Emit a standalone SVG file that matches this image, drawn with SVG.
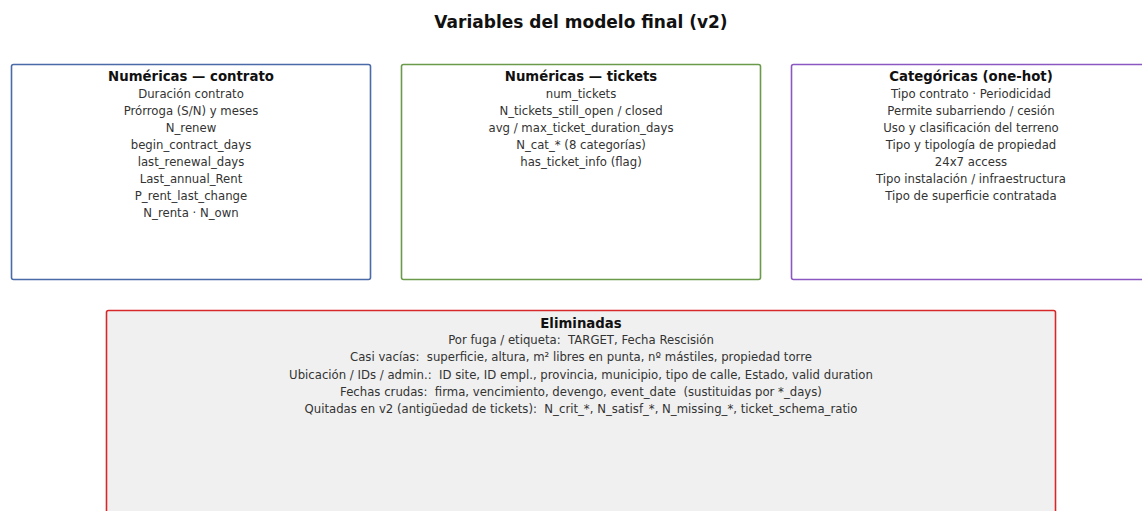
<svg xmlns="http://www.w3.org/2000/svg" width="1142" height="511" viewBox="0 0 1142 511">
<style>
.t{font-family:"DejaVu Sans",sans-serif;font-weight:bold;font-size:17px;fill:#111;text-anchor:middle}
.h{font-family:"DejaVu Sans",sans-serif;font-weight:bold;font-size:13.3px;fill:#111;text-anchor:middle}
.i{font-family:"DejaVu Sans",sans-serif;font-size:11.7px;fill:#333;text-anchor:middle;white-space:pre}
.box{stroke-width:1.6}
</style>
<rect width="1142" height="511" fill="#ffffff"/>
<text class="t" x="581" y="28">Variables del modelo final (v2)</text>
<g id="numericas-contrato">
<rect class="box" x="11.5" y="64.5" width="359" height="215" rx="2" fill="#ffffff" stroke="#4a6aa8"/>
<text class="h" x="191" y="80.5">Numéricas — contrato</text>
<text class="i" x="191" y="98">Duración contrato</text>
<text class="i" x="191" y="115">Prórroga (S/N) y meses</text>
<text class="i" x="191" y="132">N_renew</text>
<text class="i" x="191" y="149">begin_contract_days</text>
<text class="i" x="191" y="166">last_renewal_days</text>
<text class="i" x="191" y="183">Last_annual_Rent</text>
<text class="i" x="191" y="200">P_rent_last_change</text>
<text class="i" x="191" y="217">N_renta · N_own</text>
</g>
<g id="numericas-tickets">
<rect class="box" x="401.5" y="64.5" width="359" height="215" rx="2" fill="#ffffff" stroke="#6a9a4a"/>
<text class="h" x="581" y="80.5">Numéricas — tickets</text>
<text class="i" x="581" y="98">num_tickets</text>
<text class="i" x="581" y="115">N_tickets_still_open / closed</text>
<text class="i" x="581" y="132">avg / max_ticket_duration_days</text>
<text class="i" x="581" y="149">N_cat_* (8 categorías)</text>
<text class="i" x="581" y="166">has_ticket_info (flag)</text>
</g>
<g id="categoricas">
<rect class="box" x="791.5" y="64.5" width="359" height="215" rx="2" fill="#ffffff" stroke="#8a58c0"/>
<text class="h" x="971" y="80.5">Categóricas (one-hot)</text>
<text class="i" x="971" y="98">Tipo contrato · Periodicidad</text>
<text class="i" x="971" y="115">Permite subarriendo / cesión</text>
<text class="i" x="971" y="132">Uso y clasificación del terreno</text>
<text class="i" x="971" y="149">Tipo y tipología de propiedad</text>
<text class="i" x="971" y="166">24x7 access</text>
<text class="i" x="971" y="183">Tipo instalación / infraestructura</text>
<text class="i" x="971" y="200">Tipo de superficie contratada</text>
</g>
<g id="eliminadas">
<rect class="box" x="106.5" y="310.5" width="949" height="215" rx="2" fill="#f0f0f0" stroke="#d62828"/>
<text class="h" x="581" y="327.5">Eliminadas</text>
<text class="i" x="581" y="344">Por fuga / etiqueta:  TARGET, Fecha Rescisión</text>
<text class="i" x="581" y="361">Casi vacías:  superficie, altura, m² libres en punta, nº mástiles, propiedad torre</text>
<text class="i" x="581" y="378.5">Ubicación / IDs / admin.:  ID site, ID empl., provincia, municipio, tipo de calle, Estado, valid duration</text>
<text class="i" x="581" y="395.5">Fechas crudas:  firma, vencimiento, devengo, event_date  (sustituidas por *_days)</text>
<text class="i" x="581" y="412.5">Quitadas en v2 (antigüedad de tickets):  N_crit_*, N_satisf_*, N_missing_*, ticket_schema_ratio</text>
</g>
<g id="connectors"></g>
</svg>
